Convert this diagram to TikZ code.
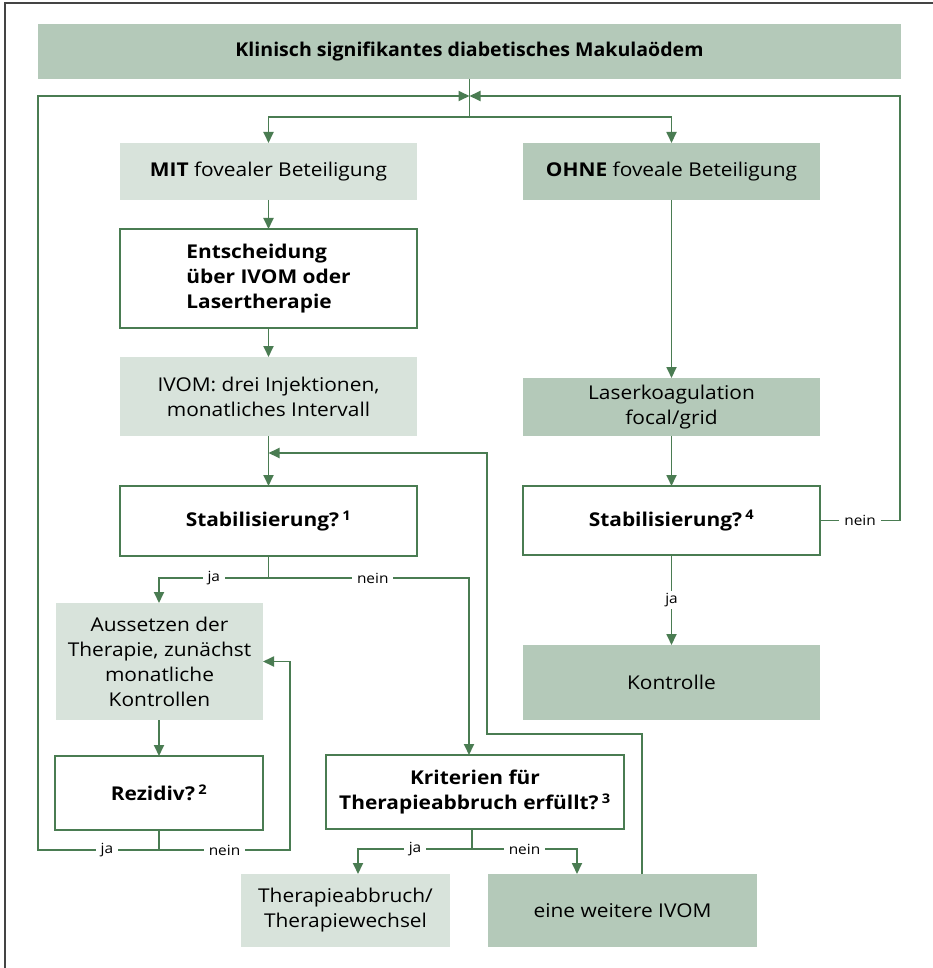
\documentclass[tikz,border=0pt]{standalone}
\usepackage{fontspec}
\setmainfont[FakeStretch=1.1]{Open Sans}
\usetikzlibrary{arrows.meta}
\definecolor{lgreen}{RGB}{74,124,82}
\definecolor{dfill}{RGB}{180,201,185}
\definecolor{lfill}{RGB}{216,227,219}
\definecolor{framecol}{RGB}{68,68,68}
\begin{document}
\begin{tikzpicture}[x=1pt,y=-1pt,
  base/.style={anchor=north west, inner sep=0pt, outer sep=0pt, align=center, text=black,
    font=\fontsize{19}{25}\selectfont},
  dbox/.style={base, fill=dfill},
  lbox/.style={base, fill=lfill},
  wbox/.style={base, draw=lgreen, line width=2pt, fill=white, font=\fontsize{19}{25}\selectfont\bfseries},
  conn/.style={draw=lgreen, line width=1.8pt},
  arr/.style={conn, -{Triangle[length=11pt,width=10pt]}},
  lbl/.style={fill=white, inner xsep=5pt, inner ysep=1pt, text=black, font=\fontsize{14}{17}\selectfont},
  vlbl/.style={fill=white, inner xsep=1pt, inner ysep=2pt, text=black, font=\fontsize{14}{17}\selectfont},
]
\useasboundingbox (0,0) rectangle (933,968);
\fill[white] (0,0) rectangle (933,968);
\draw[framecol, line width=2.2pt] (4.7,968) -- (4.7,3.3) -- (933,3.3);

% nodes
\node[dbox, minimum width=863pt, minimum height=55pt] (title) at (38,24)
  {\bfseries\resizebox{468pt}{\height}{Klinisch signifikantes diabetisches Makulaödem}};
\node[lbox, minimum width=297pt, minimum height=57pt] (mit) at (120,143)
  {\textbf{MIT} fovealer Beteiligung};
\node[dbox, minimum width=297pt, minimum height=57pt] (ohne) at (523,143)
  {\textbf{OHNE} foveale Beteiligung};
\node[wbox, minimum width=297pt, minimum height=99pt, align=left] (ent) at (120,229)
  {Entscheidung\\über IVOM oder\\Lasertherapie};
\node[lbox, minimum width=297pt, minimum height=79pt] (ivom) at (120,357)
  {IVOM: drei Injektionen,\\monatliches Intervall};
\node[wbox, minimum width=297pt, minimum height=70pt] (stab1) at (120,486)
  {Stabilisierung?\,\textsuperscript{1}};
\node[lbox, minimum width=207pt, minimum height=117pt] (aus) at (56,603)
  {Aussetzen der\\Therapie, zunächst\\monatliche\\Kontrollen};
\node[wbox, minimum width=208pt, minimum height=74pt] (rez) at (55,756)
  {Rezidiv?\,\textsuperscript{2}};
\node[wbox, minimum width=298pt, minimum height=74pt] (krit) at (326,755)
  {Kriterien für\\Therapieabbruch erfüllt?\,\textsuperscript{3}};
\node[lbox, minimum width=209pt, minimum height=73pt] (tab) at (241,874)
  {Therapieabbruch/\\Therapiewechsel};
\node[dbox, minimum width=269pt, minimum height=73pt] (weit) at (488,874)
  {eine weitere IVOM};
\node[dbox, minimum width=297pt, minimum height=58pt] (laser) at (523,378)
  {Laserkoagulation\\focal/grid};
\node[wbox, minimum width=297pt, minimum height=69pt] (stab4) at (523,486)
  {Stabilisierung?\,\textsuperscript{4}};
\node[dbox, minimum width=297pt, minimum height=75pt] (kontr) at (523,645)
  {Kontrolle};

% coordinates
\coordinate (j) at (469.5,96);
\coordinate (sp) at (469.5,117);
\coordinate (lt) at (38,96);
\coordinate (rt) at (900,96);
\coordinate (s1) at (268.5,578);
\coordinate (kx) at (469,578);
\coordinate (r) at (159,850);
\coordinate (lb) at (38,850);
\coordinate (rb) at (290,850);
\coordinate (k) at (472,849);
\coordinate (ka) at (358,849);
\coordinate (kb) at (577,849);
\coordinate (fb1) at (487,453);
\coordinate (fb2) at (487,734);
\coordinate (fb3) at (642,734);

% top
\draw[conn] (title.south -| j) -- (sp);
\draw[arr] (sp) -| (mit.north);
\draw[arr] (sp) -| (ohne.north);

% left column
\draw[arr] (mit) -- (ent);
\draw[arr] (ent) -- (ivom);
\draw[arr] (ivom) -- (stab1);
\draw[conn] (stab1.south) -- (s1);
\draw[arr] (s1) -| node[lbl, pos=0.25] (l1) {ja} (aus.north -| rez.north);
\draw[arr] (s1) -| node[lbl, pos=0.26] (l2) {nein} (krit.north -| kx);
\draw[arr] (aus.south -| rez.north) -- (rez.north);
\draw[conn] (rez.south) -- (r);
\draw[arr] (r) -- node[lbl, pos=0.43] (l3) {ja} (lb) -- (lt) -- (j);
\draw[arr] (r) -- node[lbl, pos=0.5] (l4) {nein} (rb) |- (aus.east);
\draw[conn] (krit.south -| k) -- (k);
\draw[arr] (k) -- node[lbl] (l5) {ja} (ka) -- (ka |- tab.north);
\draw[arr] (k) -- node[lbl] (l6) {nein} (kb) -- (kb |- weit.north);
\draw[arr] (weit.north -| fb3) -- (fb3) -- (fb2) -- (fb1) -- (fb1 -| ivom.south);

% right column
\draw[arr] (ohne) -- (laser);
\draw[arr] (laser) -- (stab4);
\draw[arr] (stab4) -- node[vlbl] (l7) {ja} (kontr);
\draw[arr] (stab4.east) -- node[lbl] (l8) {nein} (stab4.east -| rt) -- (rt) -- (j);
\end{tikzpicture}
\end{document}
